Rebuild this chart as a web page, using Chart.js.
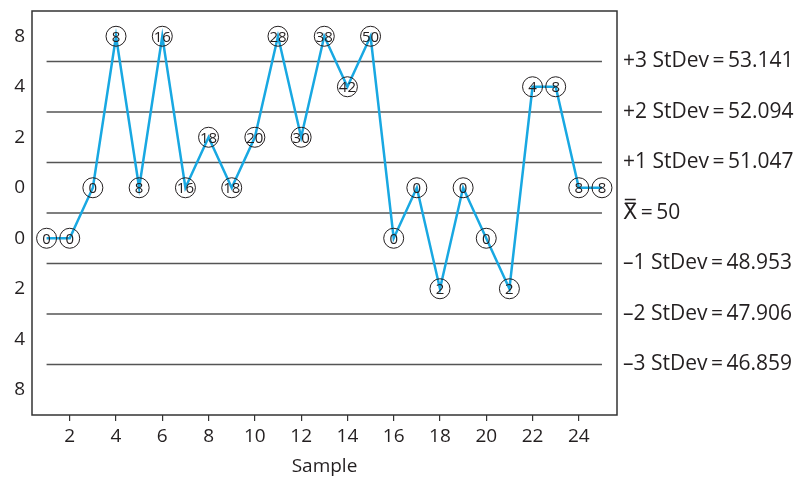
<!DOCTYPE html>
<html><head><meta charset="utf-8">
<script src="https://cdn.jsdelivr.net/npm/chart.js@4/dist/chart.umd.min.js"></script>
<style>html,body{margin:0;padding:0;background:#fff}#wrap{width:799px;height:478px}</style>
</head><body><div id="wrap"><canvas id="c"></canvas></div>
<script>
// Sample numbers (x categories)
const samples = [1,2,3,4,5,6,7,8,9,10,11,12,13,14,15,16,17,18,19,20,21,22,23,24,25];
// Zone position of each sample (in standard-deviation zone units, 0 = centre line)
const zoneValues = [-0.5,-0.5,0.5,3.5,0.5,3.5,0.5,1.5,0.5,1.5,3.5,1.5,3.5,2.5,3.5,-0.5,0.5,-1.5,0.5,-0.5,-1.5,2.5,2.5,0.5,0.5];
// Labels written inside each circle
const pointLabels = ["0","0","0","8","8","16","16","18","18","20","28","30","38","42","50","0","0","2","0","0","2","4","8","8","8"];
// Left axis tick positions and labels
const yTickValues = [3.5,2.5,1.5,0.5,-0.5,-1.5,-2.5,-3.5];
const yTickLabels = ["8","4","2","0","0","2","4","8"];
// Control limit lines and their labels
const limitValues = [3,2,1,0,-1,-2,-3];
const limitLabels = ["+3 StDev\u2009=\u200953.141","+2 StDev\u2009=\u200952.094","+1 StDev\u2009=\u200951.047","X\u033F\u2009=\u200950","\u20131 StDev\u2009=\u200948.953","\u20132 StDev\u2009=\u200947.906","\u20133 StDev\u2009=\u200946.859"];
// X axis ticks
const xTickValues = [2,4,6,8,10,12,14,16,18,20,22,24];

const FONT = "'Open Sans', 'DejaVu Sans', sans-serif";
const TXT = '#231f20';

const datasets = [{
  data: samples.map((s,i)=>({x:s,y:zoneValues[i]})),
  borderColor: '#18a8e2',
  borderWidth: 2.5,
  pointRadius: 10,
  pointHoverRadius: 10,
  pointBackgroundColor: 'rgba(0,0,0,0)',
  pointBorderColor: '#231f20',
  pointBorderWidth: 1,
  tension: 0
}];
limitValues.forEach(v=>{
  datasets.push({
    data: [{x:samples[0],y:v},{x:samples[samples.length-1],y:v}],
    borderColor: '#555',
    borderWidth: 1.5,
    pointRadius: 0,
    tension: 0
  });
});

const boxPlugin = {
  id:'box',
  afterDatasetsDraw(chart){
    const {ctx, chartArea:a} = chart;
    ctx.save();
    ctx.strokeStyle = '#333';
    ctx.lineWidth = 1.5;
    ctx.strokeRect(a.left, a.top, a.right-a.left, a.bottom-a.top);
    // labels inside circles
    const meta = chart.getDatasetMeta(0);
    ctx.fillStyle = TXT;
    ctx.font = "15px " + FONT;
    ctx.textAlign = 'center';
    ctx.textBaseline = 'middle';
    meta.data.forEach((pt,i)=>{
      ctx.fillText(pointLabels[i], pt.x, pt.y+1);
    });
    ctx.restore();
  }
};

function noPad(s){ s.paddingTop = 0; s.paddingBottom = 0; }

new Chart(document.getElementById('c'), {
  type:'line',
  data:{datasets},
  options:{
    responsive:true,
    maintainAspectRatio:false,
    animation:false,
    layout:{padding:{top:11,left:0,right:0,bottom:0}},
    plugins:{legend:{display:false},tooltip:{enabled:false}},
    scales:{
      x:{
        type:'linear', min:0.37, max:25.65,
        afterBuildTicks:s=>{s.ticks = xTickValues.map(v=>({value:v}));},
        afterFit:s=>{s.height = 63; s.paddingLeft = 0; s.paddingRight = 0;},
        grid:{display:true, drawOnChartArea:false, drawTicks:true, tickLength:6, color:'#333', lineWidth:1.2},
        border:{display:false},
        ticks:{autoSkip:false, maxRotation:0, padding:4, color:TXT, font:{family:FONT,size:19}, callback:v=>String(v)},
        title:{display:true, text:'Sample', color:TXT, font:{family:FONT,size:19}, padding:{top:0,bottom:0}}
      },
      y:{
        min:-4, max:4,
        afterBuildTicks:s=>{s.ticks = yTickValues.map(v=>({value:v}));},
        afterFit:s=>{s.width = 32; noPad(s);},
        grid:{display:false, drawTicks:false},
        border:{display:false},
        ticks:{autoSkip:false, padding:7, color:TXT, font:{family:FONT,size:19}, callback:(v,i)=>yTickLabels[i]}
      },
      y2:{
        position:'right', min:-4, max:4,
        afterBuildTicks:s=>{s.ticks = limitValues.map(v=>({value:v}));},
        afterFit:s=>{s.width = 182; noPad(s);},
        grid:{display:false, drawTicks:false},
        border:{display:false},
        ticks:{autoSkip:false, padding:6, color:TXT, font:{family:FONT,size:21}, callback:(v,i)=>limitLabels[i]}
      }
    }
  },
  plugins:[boxPlugin]
});
</script></body></html>
